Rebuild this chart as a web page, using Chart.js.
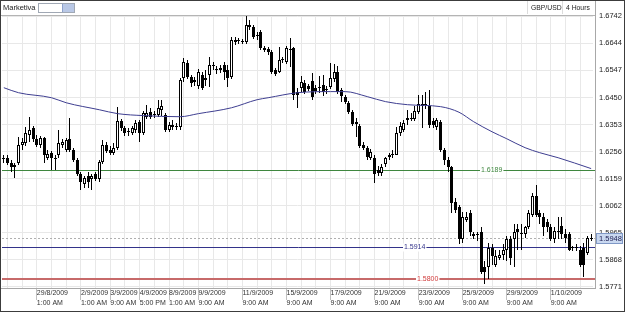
<!DOCTYPE html>
<html>
<head>
<meta charset="utf-8">
<script src="https://cdn.jsdelivr.net/npm/chart.js@4.4.0/dist/chart.umd.min.js"></script>
<style>
  html, body { margin: 0; padding: 0; background: #fff; }
  #wrap { position: relative; width: 625px; height: 312px; overflow: hidden; font-family: "Liberation Sans", Arial, sans-serif; color: #222; }
  #wrap canvas { position: absolute; left: 0; top: 0; }
  .frame { position: absolute; left: 0; top: 0; width: 623px; height: 310px; border: 1px solid #3c3c3c; pointer-events: none; }
  .hline { position: absolute; left: 1px; top: 15px; width: 595px; height: 1px; background: #b4b4b4; }
  .axisline { position: absolute; left: 1px; top: 288px; width: 595px; height: 1px; background: #a8a8a8; }
  .vline { position: absolute; left: 595px; top: 1px; width: 1px; height: 288px; background: #a8a8a8; }
  .brand { position: absolute; left: 3px; top: 3px; font-size: 7.5px; line-height: 9px; }
  .picker { position: absolute; left: 38px; top: 3px; width: 35px; height: 8px; border: 1px solid #a0a8b4; background: #fff; }
  .picker span { position: absolute; right: 0; top: 0; width: 11px; height: 8px; background: #b9c8e6; border-left: 1px solid #8ea2cc; }
  .sym { position: absolute; top: 1px; height: 13px; font-size: 6.8px; line-height: 13px; padding: 0 3px; border-left: 1px solid #dcdcdc; }
</style>
</head>
<body>
<div id="wrap">
  <canvas id="chart" width="625" height="312"></canvas>
  <div class="hline"></div>
  <div class="axisline"></div>
  <div class="vline"></div>
  <div class="brand">Marketiva</div>
  <div class="picker"><span></span></div>
  <div class="sym" style="left:527px">GBP/USD</div>
  <div class="sym" style="left:562px">4 Hours</div>
  <div class="frame"></div>
</div>
<script>
// GBP/USD 4 hour candles left to right
const open = [
  1.6231, 1.6234, 1.6216, 1.6202, 1.6216, 1.6281, 1.6288, 1.6317, 1.6342, 1.6302,
  1.6281, 1.6306, 1.6234, 1.6252, 1.6234, 1.6245, 1.6281, 1.6263, 1.6302, 1.6263,
  1.6227, 1.6177, 1.6141, 1.6170, 1.6156, 1.6174, 1.6156, 1.6220, 1.6281, 1.6263,
  1.6252, 1.6270, 1.6367, 1.6342, 1.6327, 1.6324, 1.6335, 1.6363, 1.6324, 1.6381,
  1.6399, 1.6388, 1.6388, 1.6406, 1.6388, 1.6335, 1.6345, 1.6345, 1.6345, 1.6521,
  1.6574, 1.6524, 1.6514, 1.6492, 1.6532, 1.6521, 1.6532, 1.6564, 1.6549, 1.6557,
  1.6567, 1.6549, 1.6524, 1.6650, 1.6653, 1.6650, 1.6650, 1.6711, 1.6703, 1.6671,
  1.6685, 1.6628, 1.6625, 1.6614, 1.6549, 1.6542, 1.6585, 1.6578, 1.6621, 1.6628,
  1.6471, 1.6485, 1.6503, 1.6492, 1.6510, 1.6485, 1.6489, 1.6496, 1.6481, 1.6489,
  1.6517, 1.6542, 1.6478, 1.6453, 1.6431, 1.6399, 1.6363, 1.6349, 1.6281, 1.6270,
  1.6234, 1.6234, 1.6191, 1.6181, 1.6213, 1.6238, 1.6242, 1.6245, 1.6324, 1.6335,
  1.6370, 1.6374, 1.6374, 1.6399, 1.6420, 1.6428, 1.6420, 1.6367, 1.6345, 1.6363,
  1.6263, 1.6227, 1.6199, 1.6077, 1.6059, 1.5941, 1.6012, 1.6037, 1.5962, 1.5959,
  1.5969, 1.5844, 1.5844, 1.5912, 1.5848, 1.5876, 1.5884, 1.5905, 1.5941, 1.5941,
  1.5977, 1.5962, 1.5959, 1.5984, 1.6030, 1.6095, 1.6037, 1.6023, 1.6005, 1.5987,
  1.5941, 1.5966, 1.5991, 1.5962, 1.5959, 1.5912, 1.5912, 1.5905, 1.5912, 1.5894,
  1.5941
];
const high = [
  1.6245, 1.6242, 1.6227, 1.6216, 1.6310, 1.6306, 1.6345, 1.6381, 1.6349, 1.6317,
  1.6313, 1.6310, 1.6263, 1.6259, 1.6245, 1.6335, 1.6302, 1.6306, 1.6378, 1.6270,
  1.6234, 1.6184, 1.6170, 1.6184, 1.6177, 1.6184, 1.6227, 1.6299, 1.6292, 1.6277,
  1.6288, 1.6417, 1.6374, 1.6349, 1.6342, 1.6349, 1.6370, 1.6370, 1.6403, 1.6424,
  1.6413, 1.6403, 1.6442, 1.6442, 1.6395, 1.6363, 1.6370, 1.6360, 1.6521, 1.6592,
  1.6585, 1.6532, 1.6524, 1.6553, 1.6542, 1.6549, 1.6596, 1.6578, 1.6564, 1.6567,
  1.6578, 1.6567, 1.6668, 1.6668, 1.6664, 1.6660, 1.6742, 1.6728, 1.6711, 1.6685,
  1.6693, 1.6635, 1.6632, 1.6621, 1.6557, 1.6632, 1.6596, 1.6635, 1.6664, 1.6632,
  1.6485, 1.6528, 1.6514, 1.6499, 1.6539, 1.6496, 1.6528, 1.6532, 1.6492, 1.6574,
  1.6571, 1.6564, 1.6485, 1.6460, 1.6438, 1.6406, 1.6378, 1.6356, 1.6292, 1.6277,
  1.6266, 1.6242, 1.6206, 1.6213, 1.6238, 1.6252, 1.6263, 1.6345, 1.6363, 1.6370,
  1.6406, 1.6395, 1.6420, 1.6460, 1.6460, 1.6471, 1.6478, 1.6378, 1.6378, 1.6370,
  1.6270, 1.6238, 1.6206, 1.6088, 1.6066, 1.6041, 1.6041, 1.6048, 1.5969, 1.5969,
  1.5987, 1.5862, 1.5930, 1.5923, 1.5905, 1.5905, 1.5926, 1.5955, 1.5955, 1.5995,
  1.5995, 1.5995, 1.5991, 1.6045, 1.6109, 1.6138, 1.6048, 1.6037, 1.6016, 1.5998,
  1.5984, 1.6023, 1.6023, 1.5977, 1.5969, 1.5919, 1.5923, 1.5916, 1.5930, 1.5955,
  1.5959
];
const low = [
  1.6216, 1.6209, 1.6184, 1.6163, 1.6209, 1.6263, 1.6277, 1.6292, 1.6292, 1.6274,
  1.6270, 1.6216, 1.6227, 1.6191, 1.6191, 1.6234, 1.6270, 1.6256, 1.6256, 1.6220,
  1.6170, 1.6120, 1.6127, 1.6127, 1.6120, 1.6152, 1.6148, 1.6213, 1.6252, 1.6245,
  1.6242, 1.6263, 1.6331, 1.6313, 1.6313, 1.6317, 1.6324, 1.6292, 1.6317, 1.6374,
  1.6374, 1.6378, 1.6381, 1.6385, 1.6327, 1.6327, 1.6335, 1.6335, 1.6335, 1.6506,
  1.6517, 1.6489, 1.6492, 1.6481, 1.6478, 1.6492, 1.6489, 1.6549, 1.6535, 1.6539,
  1.6514, 1.6489, 1.6517, 1.6639, 1.6642, 1.6642, 1.6642, 1.6693, 1.6660, 1.6657,
  1.6621, 1.6614, 1.6603, 1.6535, 1.6528, 1.6539, 1.6574, 1.6571, 1.6560, 1.6442,
  1.6413, 1.6471, 1.6463, 1.6474, 1.6442, 1.6463, 1.6467, 1.6456, 1.6463, 1.6481,
  1.6506, 1.6463, 1.6435, 1.6428, 1.6392, 1.6349, 1.6310, 1.6270, 1.6263, 1.6227,
  1.6227, 1.6145, 1.6170, 1.6170, 1.6202, 1.6227, 1.6234, 1.6242, 1.6313, 1.6327,
  1.6353, 1.6367, 1.6367, 1.6392, 1.6342, 1.6410, 1.6342, 1.6342, 1.6335, 1.6256,
  1.6209, 1.6184, 1.6037, 1.6037, 1.5923, 1.5930, 1.6005, 1.5955, 1.5941, 1.5934,
  1.5816, 1.5780, 1.5798, 1.5851, 1.5841, 1.5869, 1.5869, 1.5862, 1.5851, 1.5841,
  1.5905, 1.5905, 1.5948, 1.5977, 1.6023, 1.6023, 1.5995, 1.5952, 1.5969, 1.5934,
  1.5930, 1.5941, 1.5941, 1.5930, 1.5898, 1.5898, 1.5898, 1.5844, 1.5808, 1.5887,
  1.5937
];
const close = [
  1.6234, 1.6216, 1.6202, 1.6209, 1.6281, 1.6292, 1.6324, 1.6335, 1.6302, 1.6281,
  1.6306, 1.6245, 1.6249, 1.6234, 1.6231, 1.6288, 1.6292, 1.6299, 1.6263, 1.6227,
  1.6177, 1.6148, 1.6163, 1.6148, 1.6170, 1.6159, 1.6220, 1.6281, 1.6259, 1.6252,
  1.6270, 1.6367, 1.6342, 1.6324, 1.6331, 1.6342, 1.6360, 1.6324, 1.6395, 1.6395,
  1.6381, 1.6392, 1.6413, 1.6420, 1.6335, 1.6353, 1.6353, 1.6349, 1.6514, 1.6578,
  1.6524, 1.6503, 1.6506, 1.6542, 1.6485, 1.6514, 1.6567, 1.6567, 1.6547, 1.6549,
  1.6542, 1.6521, 1.6657, 1.6657, 1.6652, 1.6653, 1.6711, 1.6703, 1.6668, 1.6670,
  1.6628, 1.6621, 1.6614, 1.6542, 1.6535, 1.6585, 1.6584, 1.6628, 1.6625, 1.6460,
  1.6460, 1.6506, 1.6471, 1.6481, 1.6453, 1.6474, 1.6485, 1.6471, 1.6478, 1.6521,
  1.6542, 1.6471, 1.6456, 1.6435, 1.6399, 1.6356, 1.6356, 1.6277, 1.6270, 1.6238,
  1.6256, 1.6174, 1.6181, 1.6202, 1.6234, 1.6245, 1.6245, 1.6324, 1.6349, 1.6360,
  1.6378, 1.6378, 1.6403, 1.6428, 1.6428, 1.6424, 1.6353, 1.6353, 1.6370, 1.6263,
  1.6227, 1.6199, 1.6073, 1.6048, 1.5941, 1.6020, 1.6023, 1.5966, 1.5955, 1.5956,
  1.5826, 1.5823, 1.5912, 1.5880, 1.5880, 1.5887, 1.5905, 1.5941, 1.5876, 1.5969,
  1.5969, 1.5961, 1.5984, 1.6037, 1.6095, 1.6030, 1.6023, 1.5987, 1.5984, 1.5941,
  1.5973, 1.5969, 1.5959, 1.5948, 1.5905, 1.5909, 1.5909, 1.5851, 1.5851, 1.5948,
  1.5948
];

// moving average, read at a few candles
const maIdx = [0, 4, 13, 17, 26, 31, 38, 48, 53, 62, 69, 72, 80, 89, 93, 99, 104, 110, 119, 124, 128, 133, 137, 142, 146, 151, 160];
const maVal = [1.6485, 1.6467, 1.6449, 1.6431, 1.6406, 1.6392, 1.6385, 1.6381, 1.6392, 1.6413, 1.6442, 1.6449, 1.6467, 1.6471, 1.6471, 1.6453, 1.6435, 1.6424, 1.6417, 1.6397, 1.6363, 1.6327, 1.6302, 1.6270, 1.6252, 1.6234, 1.6195];

// x axis labels and the candle they sit on
const tickIdx = [9, 21, 29, 37, 45, 53, 65, 77, 89, 101, 113, 125, 137, 149];
const tickDates = ['29/8/2009', '2/9/2009', '3/9/2009', '4/9/2009', '8/9/2009', '9/9/2009', '11/9/2009', '15/9/2009', '17/9/2009', '21/9/2009', '23/9/2009', '25/9/2009', '29/9/2009', '1/10/2009'];
const tickTimes = ['1:00 AM', '1:00 AM', '9:00 AM', '5:00 PM', '1:00 AM', '9:00 AM', '9:00 AM', '9:00 AM', '9:00 AM', '9:00 AM', '9:00 AM', '9:00 AM', '9:00 AM', '9:00 AM'];

const yTicks = [1.5771, 1.5868, 1.5965, 1.6062, 1.6159, 1.6256, 1.6353, 1.6450, 1.6547, 1.6644, 1.6742];

// horizontal levels drawn on the chart
const levels = [1.6189, 1.5914, 1.5800];
const lastPrice = close[close.length - 1];

const levelStyle = [
    { line: '#3f873f', text: '#3f873f', width: 1, labelX: 481 },
    { line: '#33338a', text: '#33338a', width: 1, labelX: 404 },
    { line: '#c76a6a', text: '#d03a3a', width: 2, labelX: 417 },
];

// snap the candle bars to whole pixels so they stay crisp
const snapPlugin = {
    id: 'snap',
    beforeDatasetDraw(chart, args) {
        const meta = args.meta;
        if (meta.type !== 'bar') return;
        meta.data.forEach(el => {
            el.x = Math.floor(el.x) + 0.5;
            el.y = Math.round(el.y);
            el.base = Math.round(el.base);
            if (Math.abs(el.base - el.y) < 1) el.base = el.y + 1;
        });
    }
};

const levelPlugin = {
    id: 'levels',
    beforeDatasetsDraw(chart) {
        const { ctx, chartArea: a, scales: { y } } = chart;
        ctx.save();
        let py = Math.round(y.getPixelForValue(lastPrice)) + 0.5;
        ctx.strokeStyle = '#b0b0b0';
        ctx.lineWidth = 1;
        ctx.setLineDash([2, 2]);
        ctx.beginPath();
        ctx.moveTo(a.left, py);
        ctx.lineTo(a.right + 2, py);
        ctx.stroke();
        ctx.setLineDash([]);
        levels.forEach((v, i) => {
            const s = levelStyle[i];
            let ly = Math.round(y.getPixelForValue(v));
            if (s.width % 2) ly += 0.5;
            ctx.strokeStyle = s.line;
            ctx.lineWidth = s.width;
            ctx.beginPath();
            ctx.moveTo(a.left, ly);
            ctx.lineTo(a.right + 2, ly);
            ctx.stroke();
        });
        ctx.restore();
    },
    afterDatasetsDraw(chart) {
        const { ctx, scales: { y } } = chart;
        ctx.save();
        ctx.font = '7px "Liberation Sans", Arial, sans-serif';
        ctx.textBaseline = 'middle';
        levels.forEach((v, i) => {
            const s = levelStyle[i];
            const ly = Math.round(y.getPixelForValue(v)) + 0.5;
            const txt = v.toFixed(4);
            const w = ctx.measureText(txt).width;
            ctx.fillStyle = '#fff';
            ctx.fillRect(s.labelX - 1, ly - 4, w + 2, 8);
            ctx.fillStyle = s.text;
            ctx.fillText(txt, s.labelX, ly);
        });
        ctx.restore();
    },
    afterDraw(chart) {
        const { ctx, scales: { y } } = chart;
        const py = Math.round(y.getPixelForValue(lastPrice));
        ctx.save();
        ctx.fillStyle = '#c9d8f0';
        ctx.fillRect(596, py - 5, 27, 11);
        ctx.strokeStyle = '#7f98c6';
        ctx.lineWidth = 1;
        ctx.strokeRect(596.5, py - 4.5, 26, 10);
        ctx.fillStyle = '#1c1c50';
        ctx.font = '7.5px "Liberation Sans", Arial, sans-serif';
        ctx.textBaseline = 'middle';
        ctx.fillText(lastPrice.toFixed(4), 599, py + 0.5);
        ctx.restore();
    }
};

const ctx = document.getElementById('chart');
new Chart(ctx, {
    type: 'bar',
    data: {
        labels: open.map((_, i) => i),
        datasets: [
            {
                type: 'line',
                data: maIdx.map((x, i) => ({ x: x, y: maVal[i] })),
                borderColor: '#3e3e90',
                borderWidth: 1,
                pointRadius: 0,
                cubicInterpolationMode: 'monotone',
                order: 0
            },
            {
                data: open.map((o, i) => [o, close[i]]),
                backgroundColor: open.map((o, i) => close[i] >= o ? '#ffffff' : '#000000'),
                borderColor: '#000',
                borderWidth: 1,
                borderSkipped: false,
                barThickness: 3,
                minBarLength: 1,
                inflateAmount: 0,
                grouped: false,
                order: 1
            },
            {
                data: low.map((l, i) => [l, high[i]]),
                backgroundColor: '#000',
                barThickness: 1,
                inflateAmount: 0,
                grouped: false,
                order: 2
            }
        ]
    },
    options: {
        animation: false,
        responsive: false,
        events: [],
        layout: { padding: { top: 16, left: 2, right: 0, bottom: 0 } },
        plugins: { legend: { display: false }, tooltip: { enabled: false } },
        scales: {
            x: {
                offset: true,
                border: { display: false },
                grid: {
                    offset: false,
                    color: (c) => c.index % 4 === 1 ? '#e8e8e8' : 'rgba(0,0,0,0)',
                    tickColor: (c) => tickIdx.includes(c.index) ? '#c0c0c0' : 'rgba(0,0,0,0)',
                    tickLength: 12
                },
                ticks: {
                    autoSkip: false,
                    maxRotation: 0,
                    minRotation: 0,
                    align: 'start',
                    padding: -11,
                    color: '#333',
                    font: { family: '"Liberation Sans", Arial, sans-serif', size: 7, lineHeight: 1.3 },
                    callback: (v, i) => {
                        const k = tickIdx.indexOf(i);
                        return k < 0 ? '' : [tickDates[k], tickTimes[k]];
                    }
                },
                afterFit: (s) => { s.height = 24; }
            },
            y: {
                position: 'right',
                min: 1.5767,
                max: 1.6742,
                border: { display: false },
                grid: { color: '#e8e8e8', drawTicks: false },
                afterBuildTicks: (s) => { s.ticks = yTicks.map(v => ({ value: v })); },
                ticks: {
                    padding: 6,
                    color: '#222',
                    font: { family: '"Liberation Sans", Arial, sans-serif', size: 7.5 },
                    callback: (v) => v.toFixed(4)
                },
                afterFit: (s) => { s.width = 32; }
            }
        }
    },
    plugins: [snapPlugin, levelPlugin]
});
</script>
</body>
</html>
